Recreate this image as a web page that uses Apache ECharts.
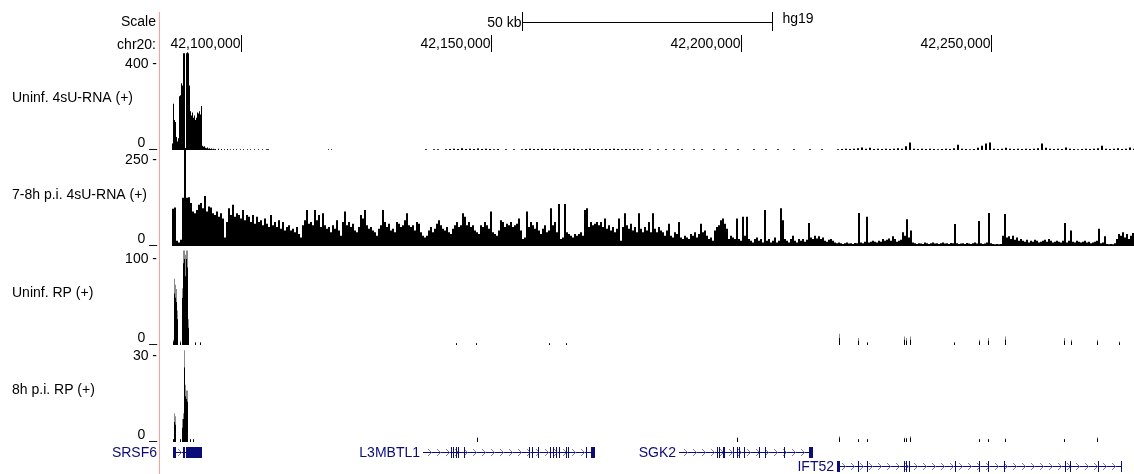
<!DOCTYPE html>
<html>
<head>
<meta charset="utf-8">
<script src="https://cdn.jsdelivr.net/npm/echarts@6/dist/echarts.min.js"></script>
<style>
html, body { margin: 0; padding: 0; background: #fff; }
#chart { width: 1134px; height: 474px; }
</style>
</head>
<body>
<div id="chart"></div>
<script>
// window shown, in kb on chr20 (hg19)
const viewStart = 42086.2;
const viewEnd = 42278.6;

const rulerTicks = [42100, 42150, 42200, 42250];
const scaleBar = [42156.2, 42206.2];

const trackNames = ['Uninf. 4sU-RNA (+)', '7-8h p.i. 4sU-RNA (+)', 'Uninf. RP (+)', '8h p.i. RP (+)'];
const trackMax = [400, 250, 100, 30];

// Uninf. 4sU-RNA: 0.2 kb bins from 42086.2
const uninf4sUHead = [
  30, 215, 140, 130, 60, 40, 55, 250, 255, 310, 300, 450, 450, 0, 450, 455, 450, 300, 180, 160,
  175, 150, 160, 140, 150, 175, 170, 180, 165, 205, 20, 15, 18, 10, 8, 12, 6, 8, 5, 7,
  4, 6, 4, 5
];
// scattered low reads after the peak [kb, value]
const uninf4sUSparse = [
  [42095.4, 6], [42096.0, 5], [42096.6, 4], [42097.2, 5], [42097.8, 4], [42098.4, 3], [42099.0, 4],
  [42099.8, 3], [42100.4, 4], [42101.2, 3], [42101.8, 3], [42102.6, 3], [42103.4, 3], [42104.2, 3],
  [42105.0, 4], [42105.2, 4], [42105.4, 4], [42117.4, 3], [42118.0, 3]
];
// 0.8 kb bins from 42135.8
const uninf4sUTail = [
  0, 4, 0, 4, 4, 0, 4, 5, 6, 5,
  8, 5, 6, 5, 7, 5, 6, 5, 4, 5,
  0, 4, 0, 4, 0, 4, 5, 6, 5, 5,
  6, 5, 5, 6, 5, 4, 5, 5, 6, 5,
  4, 5, 6, 5, 5, 4, 5, 5, 6, 5,
  4, 5, 4, 5, 4, 5, 0, 4, 0, 4,
  0, 4, 0, 4, 0, 4, 0, 0, 4, 0,
  4, 0, 0, 4, 0, 0, 4, 0, 0, 4,
  0, 0, 0, 4, 0, 0, 4, 0, 0, 4,
  0, 0, 0, 4, 0, 0, 0, 4, 0, 0,
  4, 0, 0, 0, 4, 5, 6, 5, 6, 8,
  12, 6, 10, 5, 6, 5, 6, 5, 6, 8,
  6, 18, 35, 6, 5, 6, 5, 6, 5, 4,
  5, 6, 5, 8, 25, 6, 5, 4, 5, 10,
  20, 30, 35, 6, 5, 6, 10, 6, 5, 6,
  5, 6, 5, 6, 8, 30, 10, 6, 5, 6,
  5, 12, 6, 5, 4, 5, 6, 5, 6, 8,
  20, 6, 5, 6, 8, 5, 6, 12, 6
];

// 7-8h p.i. 4sU-RNA: 0.4 kb bins from 42086.2
const infected4sU = [
  108, 112, 15, 10, 18, 140, 285, 140, 142, 125,
  100, 95, 105, 120, 125, 110, 145, 100, 115, 112,
  95, 90, 100, 85, 95, 80, 25, 70, 110, 90,
  120, 85, 95, 90, 80, 105, 75, 90, 85, 70,
  90, 65, 85, 70, 75, 60, 80, 65, 55, 90,
  60, 70, 55, 75, 50, 70, 45, 55, 60, 45,
  50, 40, 55, 35, 25, 60, 75, 105, 65, 70,
  60, 105, 75, 90, 55, 95, 60, 50, 55, 40,
  60, 50, 75, 45, 30, 70, 100, 60, 70, 55,
  65, 45, 40, 55, 90, 80, 105, 60, 50, 55,
  45, 40, 30, 50, 60, 105, 70, 55, 65, 45,
  50, 40, 70, 65, 55, 60, 75, 95, 60, 55,
  60, 45, 70, 65, 40, 30, 25, 30, 45, 55,
  40, 50, 65, 75, 60, 50, 45, 55, 40, 35,
  50, 60, 70, 55, 60, 95, 85, 60, 70, 55,
  60, 45, 40, 35, 60, 55, 70, 60, 50, 100,
  40, 35, 30, 45, 75, 70, 55, 65, 60, 70,
  55, 60, 65, 80, 45, 20, 25, 100, 55, 70,
  60, 50, 70, 45, 35, 50, 60, 40, 45, 110,
  60, 70, 40, 122, 20, 25, 122, 40, 35, 30,
  25, 35, 30, 35, 40, 30, 105, 110, 55, 70,
  60, 65, 70, 60, 70, 55, 80, 50, 60, 45,
  55, 40, 50, 80, 15, 55, 95, 60, 50, 65,
  45, 55, 40, 95, 50, 40, 55, 45, 70, 40,
  95, 50, 40, 55, 45, 40, 30, 45, 65, 30,
  25, 40, 35, 70, 25, 20, 30, 25, 20, 35,
  30, 40, 25, 35, 65, 40, 45, 30, 20, 25,
  15, 45, 55, 60, 75, 80, 65, 50, 20, 30,
  25, 20, 80, 20, 15, 85, 30, 85, 20, 15,
  10, 20, 25, 15, 20, 10, 105, 15, 20, 10,
  15, 25, 10, 15, 110, 75, 20, 15, 10, 20,
  30, 15, 10, 20,
  15, 20, 12, 18, 67, 25, 20, 30, 22, 28,
  20, 25, 15, 12, 18, 20, 15, 10, 8, 10,
  8, 6, 8, 10, 7, 8, 6, 9, 8, 96,
  10, 8, 12, 85, 10, 12, 15, 12, 10, 15,
  12, 20, 15, 18, 22, 15, 28, 20, 12, 15,
  18, 40, 30, 78, 25, 45, 10, 8, 6, 8,
  7, 6, 10, 8, 6, 8, 10, 7, 8, 6,
  8, 10, 7, 8, 6, 9, 8, 64, 8, 6,
  7, 8, 6, 9, 7, 6, 8, 10, 7, 73,
  8, 6, 7, 10, 96, 8, 6, 5, 6, 5,
  6, 30, 93, 25, 28, 20, 30, 18, 25, 15,
  20, 15, 12, 18, 10, 15, 12, 18, 15, 10,
  12, 15, 18, 12, 20, 15, 10, 12, 15, 12,
  10, 15, 67, 10, 15, 45, 12, 10, 15, 12,
  10, 12, 15, 10, 12, 8, 10, 12, 15, 50,
  8, 10, 28, 6, 5, 6, 5, 8, 20, 35,
  30, 40, 25, 35, 20, 30, 38
];

// ribosome profiling [kb, max, mean]
const uninfRp = [
  [42086.4, 6, 4], [42086.6, 77, 60], [42086.8, 70, 55], [42087.0, 65, 50], [42087.2, 40, 30],
  [42087.8, 5, 3], [42088.2, 66, 55], [42088.4, 110, 95], [42088.6, 110, 100], [42088.8, 105, 80],
  [42089.0, 110, 100], [42089.2, 110, 90], [42089.4, 30, 20], [42090.8, 3, 3], [42091.8, 3, 3],
  [42143.0, 2, 2], [42147.0, 2, 2], [42161.6, 2, 2], [42165.0, 2, 2],
  [42219.6, 13, 8], [42223.4, 8, 5], [42225.2, 3, 3], [42232.6, 10, 6], [42233.0, 8, 5],
  [42233.8, 10, 6], [42242.6, 3, 3], [42247.6, 6, 4], [42249.4, 8, 5], [42252.8, 10, 6],
  [42264.6, 8, 5], [42266.0, 6, 4], [42271.2, 6, 4], [42275.6, 4, 3]
];
const infectedRp = [
  [42086.4, 1, 1], [42086.6, 10, 7], [42086.8, 9, 6], [42087.8, 1, 1], [42088.2, 8, 5],
  [42088.4, 10, 8], [42088.6, 32, 26], [42088.8, 20, 16], [42089.0, 18, 15], [42089.2, 18, 14],
  [42089.8, 1, 1], [42090.4, 1, 1],
  [42147.2, 1.5, 1.5], [42199.2, 1.5, 1.5],
  [42219.6, 2, 1.5], [42223.4, 1, 1], [42225.2, 1, 1], [42232.6, 1.5, 1.2], [42233.0, 1.5, 1.2],
  [42233.8, 2, 1.5], [42247.6, 1, 1], [42249.4, 1, 1], [42252.8, 1.2, 1], [42264.6, 1, 1],
  [42271.2, 1.7, 1.2]
];

// RefSeq genes
const geneNames = ['SRSF6', 'L3MBTL1', 'SGK2', 'IFT52'];
const geneStart = [42086.4, 42136.4, 42187.6, 42219.2];
const geneEnd = [42092.2, 42170.8, 42214.4, 42276.2];
const geneRow = [0, 0, 0, 1];
const geneExons = [
  [[42086.4, 42087.0], [42088.4, 42088.8], [42089.0, 42089.6], [42089.6, 42092.2]],
  [[42142.0, 42142.2], [42142.4, 42142.6], [42142.9, 42143.1], [42143.3, 42143.5], [42144.6, 42144.8],
   [42157.6, 42157.8], [42158.2, 42158.4], [42159.4, 42159.6], [42161.8, 42162.0], [42162.4, 42162.6],
   [42163.0, 42163.2], [42163.6, 42163.8], [42165.0, 42165.2], [42165.4, 42165.6], [42169.0, 42169.2],
   [42170.0, 42170.8]],
  [[42195.2, 42195.4], [42195.6, 42195.8], [42196.4, 42196.8], [42198.4, 42198.6], [42199.2, 42199.4],
   [42199.6, 42199.8], [42200.6, 42200.8], [42203.6, 42203.8], [42204.8, 42205.0], [42208.6, 42208.8],
   [42213.6, 42214.4]],
  [[42219.2, 42219.8], [42223.4, 42223.6], [42225.2, 42225.4], [42232.6, 42232.8], [42233.0, 42233.2],
   [42233.6, 42233.8], [42242.8, 42243.0], [42247.6, 42247.8], [42249.4, 42249.6], [42252.6, 42252.8],
   [42264.8, 42265.0], [42265.8, 42266.0], [42271.4, 42271.6], [42276.0, 42276.2]]
];

const FONT_FAMILY = '"Liberation Sans", Arial, sans-serif';
const FONT = '14px ' + FONT_FAMILY;
const GENE_COLOR = '#0c0c78';

function bins(start, step, values) {
  return values.map((v, i) => [start + step * (i + 0.5), v]);
}

// one bar per data item, width given in kb
function barRender(widthKb, dim, color) {
  return function (params, api) {
    const x = api.value(0), v = api.value(dim);
    if (!v) return;
    const top = api.coord([x - widthKb / 2, v]);
    const base = api.coord([x + widthKb / 2, 0]);
    const x0 = Math.round(top[0]);
    const x1 = Math.max(x0 + 1, Math.round(base[0]));
    return {
      type: 'rect',
      shape: { x: x0, y: top[1], width: x1 - x0, height: base[1] - top[1] },
      style: { fill: color }
    };
  };
}

const chart = echarts.init(document.getElementById('chart'));

const trackTops = [64, 160, 259, 356];
const trackHeight = 86;

const grids = [
  { left: 172, width: 962, top: 12, height: 19 },  // scale bar
  { left: 172, width: 962, top: 35, height: 17 }   // ruler
];
trackTops.forEach(t => grids.push({ left: 172, width: 962, top: t, height: trackHeight }));
grids.push({ left: 172, width: 962, top: 445, height: 28 }); // genes

const xAxes = grids.map((g, i) => ({ gridIndex: i, type: 'value', min: viewStart, max: viewEnd, show: false }));
const yAxes = [
  { gridIndex: 0, type: 'value', min: 0, max: 1, show: false },
  { gridIndex: 1, type: 'value', min: 0, max: 1, show: false }
];
trackMax.forEach((m, k) => yAxes.push({
  gridIndex: k + 2, type: 'value', min: 0, max: m, interval: m,
  axisLine: { show: false }, axisTick: { show: false }, splitLine: { show: false },
  axisLabel: {
    margin: 15, color: '#000', fontSize: 14, fontFamily: FONT_FAMILY,
    formatter: v => v === 0 ? '{z|0 _}' : '{t|' + v + ' -}',
    rich: {
      z: { fontSize: 14, fontFamily: FONT_FAMILY, color: '#000', padding: [0, 0, 14, 0] },
      t: { fontSize: 14, fontFamily: FONT_FAMILY, color: '#000' }
    }
  }
}));
yAxes.push({ gridIndex: 6, type: 'value', min: 0, max: 2, inverse: true, show: false });

const series = [
  {
    type: 'custom', xAxisIndex: 0, yAxisIndex: 0, data: [scaleBar], silent: true,
    renderItem(params, api) {
      const cs = params.coordSys;
      const a = Math.round(api.coord([api.value(0), 0])[0]) + 0.5;
      const b = Math.round(api.coord([api.value(1), 0])[0]) + 0.5;
      const mid = Math.round(cs.y + cs.height / 2) + 0.5;
      return {
        type: 'group', children: [
          { type: 'line', shape: { x1: a, y1: mid, x2: b, y2: mid }, style: { stroke: '#000', lineWidth: 1 } },
          { type: 'line', shape: { x1: a, y1: cs.y, x2: a, y2: cs.y + cs.height }, style: { stroke: '#000', lineWidth: 1 } },
          { type: 'line', shape: { x1: b, y1: cs.y, x2: b, y2: cs.y + cs.height }, style: { stroke: '#000', lineWidth: 1 } },
          { type: 'text', style: { text: Math.round(api.value(1) - api.value(0)) + ' kb', x: a - 1, y: mid + 1,
              textAlign: 'right', textVerticalAlign: 'middle', font: FONT, fill: '#000' } },
          { type: 'text', style: { text: 'hg19', x: b + 10, y: mid - 3,
              textAlign: 'left', textVerticalAlign: 'middle', font: FONT, fill: '#000' } }
        ]
      };
    }
  },
  {
    type: 'custom', xAxisIndex: 1, yAxisIndex: 1, data: rulerTicks.map(v => [v]), silent: true,
    renderItem(params, api) {
      const cs = params.coordSys;
      const x = Math.round(api.coord([api.value(0), 0])[0]) + 0.5;
      const label = Math.round(api.value(0) * 1000).toLocaleString('en-US');
      return {
        type: 'group', children: [
          { type: 'line', shape: { x1: x, y1: cs.y, x2: x, y2: cs.y + cs.height }, style: { stroke: '#000', lineWidth: 1 } },
          { type: 'text', style: { text: label, x: x - 1, y: cs.y + cs.height / 2 + 1,
              textAlign: 'right', textVerticalAlign: 'middle', font: FONT, fill: '#000' } }
        ]
      };
    }
  },
  { type: 'custom', xAxisIndex: 2, yAxisIndex: 2, data: bins(42086.2, 0.2, uninf4sUHead), renderItem: barRender(0.2, 1, '#000'), silent: true },
  { type: 'custom', xAxisIndex: 2, yAxisIndex: 2, data: uninf4sUSparse, renderItem: barRender(0.2, 1, '#000'), silent: true },
  { type: 'custom', xAxisIndex: 2, yAxisIndex: 2, data: bins(42135.8, 0.8, uninf4sUTail), renderItem: barRender(0.5, 1, '#000'), silent: true },
  { type: 'custom', xAxisIndex: 3, yAxisIndex: 3, data: bins(42086.2, 0.4, infected4sU), renderItem: barRender(0.4, 1, '#000'), silent: true },
  { type: 'custom', xAxisIndex: 4, yAxisIndex: 4, data: uninfRp, renderItem: barRender(0.2, 1, '#8c8c8c'), silent: true },
  { type: 'custom', xAxisIndex: 4, yAxisIndex: 4, data: uninfRp, renderItem: barRender(0.2, 2, '#000'), silent: true },
  { type: 'custom', xAxisIndex: 5, yAxisIndex: 5, data: infectedRp, renderItem: barRender(0.2, 1, '#8c8c8c'), silent: true },
  { type: 'custom', xAxisIndex: 5, yAxisIndex: 5, data: infectedRp, renderItem: barRender(0.2, 2, '#000'), silent: true },
  {
    type: 'custom', xAxisIndex: 6, yAxisIndex: 6, silent: true,
    data: geneNames.map((n, i) => [geneStart[i], geneEnd[i], geneRow[i], i]),
    renderItem(params, api) {
      const cs = params.coordSys;
      const i = api.value(3);
      const y = Math.round(api.coord([0, api.value(2) + 0.5])[1]) + 0.5;
      const x0 = api.coord([api.value(0), 0])[0];
      const x1 = api.coord([api.value(1), 0])[0];
      const children = [
        { type: 'line', shape: { x1: x0, y1: y, x2: x1, y2: y }, style: { stroke: GENE_COLOR, lineWidth: 1 } }
      ];
      for (let cx = x0 + 7; cx < x1 - 4; cx += 9) {
        children.push({ type: 'polyline', shape: { points: [[cx - 2, y - 3.5], [cx + 1.5, y], [cx - 2, y + 3.5]] },
          style: { stroke: '#7a7ab8', lineWidth: 1, fill: null } });
      }
      geneExons[i].forEach(e => {
        const a = Math.round(api.coord([e[0], 0])[0]);
        const b = Math.max(a + 1, Math.round(api.coord([e[1], 0])[0]));
        children.push({ type: 'rect', shape: { x: a, y: y - 5.5, width: b - a, height: 11 }, style: { fill: GENE_COLOR } });
      });
      const lx = x0 - cs.x < 10 ? cs.x - 15 : x0 - 3;
      children.push({ type: 'text', style: { text: geneNames[i], x: lx, y: y + 1,
        textAlign: 'right', textVerticalAlign: 'middle', font: FONT, fill: GENE_COLOR } });
      return { type: 'group', children };
    }
  }
];

const labelY = [98, 195, 293, 390];
const graphics = [
  { type: 'line', shape: { x1: 159.5, y1: 12, x2: 159.5, y2: 474 }, style: { stroke: '#ff9c9c', lineWidth: 1 }, silent: true },
  { type: 'text', style: { text: 'Scale', x: 156, y: 22, textAlign: 'right', textVerticalAlign: 'middle', font: FONT, fill: '#000' } },
  { type: 'text', style: { text: 'chr20:', x: 156, y: 45, textAlign: 'right', textVerticalAlign: 'middle', font: FONT, fill: '#000' } }
];
trackNames.forEach((n, k) => graphics.push({
  type: 'text', style: { text: n, x: 12, y: labelY[k], textAlign: 'left', textVerticalAlign: 'middle', font: FONT, fill: '#000' }
}));

chart.setOption({
  animation: false,
  backgroundColor: '#fff',
  grid: grids,
  xAxis: xAxes,
  yAxis: yAxes,
  series: series,
  graphic: graphics
});
</script>
</body>
</html>
